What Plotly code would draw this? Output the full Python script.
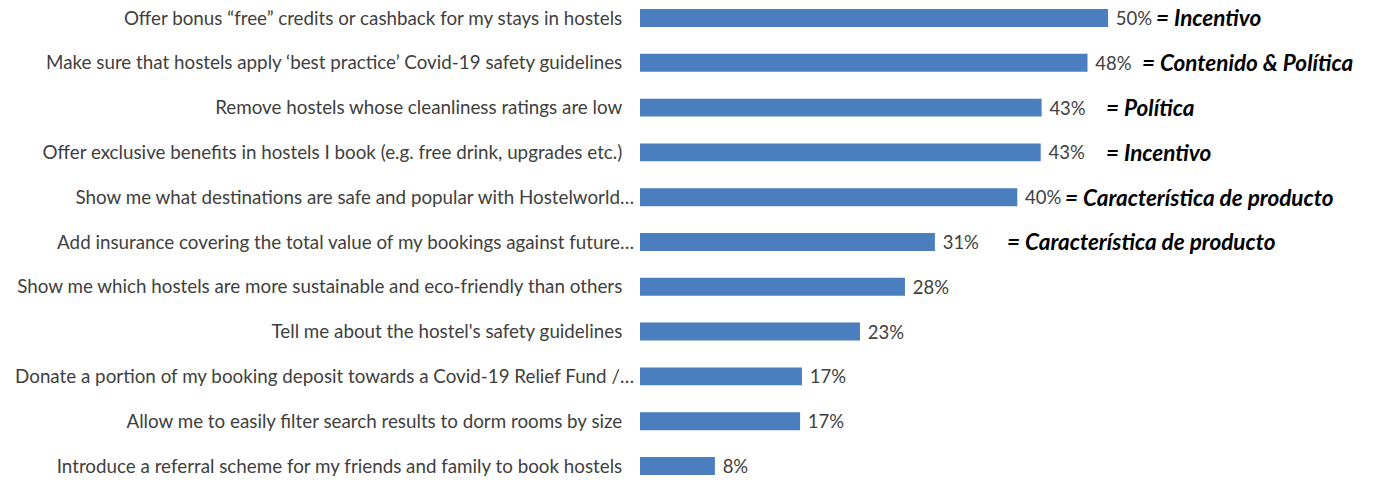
import plotly.graph_objects as go

categories = [
    "Offer bonus “free” credits or cashback for my stays in hostels",
    "Make sure that hostels apply ‘best practice’ Covid-19 safety guidelines",
    "Remove hostels whose cleanliness ratings are low",
    "Offer exclusive benefits in hostels I book (e.g. free drink, upgrades etc.)",
    "Show me what destinations are safe and popular with Hostelworld…",
    "Add insurance covering the total value of my bookings against future…",
    "Show me which hostels are more sustainable and eco-friendly than others",
    "Tell me about the hostel's safety guidelines",
    "Donate a portion of my booking deposit towards a Covid-19 Relief Fund /…",
    "Allow me to easily filter search results to dorm rooms by size",
    "Introduce a referral scheme for my friends and family to book hostels",
]
values = [50.0, 47.8, 42.9, 42.8, 40.3, 31.5, 28.3, 23.5, 17.3, 17.1, 8.0]
value_labels = ["50%", "48%", "43%", "43%", "40%", "31%", "28%", "23%", "17%", "17%", "8%"]

tags = ["= Incentivo", "= Contenido & Política", "= Política", "= Incentivo",
        "= Característica de producto", "= Característica de producto"]

BAR_COLOR = "#4A7EBF"
TEXT_COLOR = "#404040"
FONT = "Lato"

# truncated labels (ending in …) hang a little further right than the others
tick_text = [c if c.endswith("…") else c + "\u2002\u2009" for c in categories]

fig = go.Figure()

fig.add_trace(go.Bar(
    x=values,
    y=categories,
    orientation='h',
    marker=dict(color=BAR_COLOR, line=dict(width=0)),
    text=[" " + s for s in value_labels],
    textposition='outside',
    constraintext='none',
    textfont=dict(family=FONT, size=18.5, color=TEXT_COLOR),
    cliponaxis=False,
    hoverinfo='skip',
))

# where the tag text starts, in axis units
tag_x = [54.9, 53.4, 49.6, 49.6, 45.2, 39.0]
for i, t in enumerate(tags):
    fig.add_annotation(
        x=tag_x[i], y=categories[i], xref='x', yref='y',
        text="<b><i>" + t + "</i></b>",
        showarrow=False, xanchor='left', yanchor='middle',
        font=dict(family=FONT, size=22.5, color='black'),
    )

# page body has an 8px margin, so the figure is a bit smaller than the window
fig.update_layout(
    width=1366, height=472,
    margin=dict(l=632, r=0, t=0, b=0, autoexpand=False),
    plot_bgcolor='white', paper_bgcolor='white',
    bargap=0.6,
    showlegend=False,
    xaxis=dict(range=[0, 78.4], visible=False, fixedrange=True),
    yaxis=dict(
        type='category',
        range=[10.313, -0.223],
        automargin=False,
        tickmode='array', tickvals=categories, ticktext=tick_text,
        showgrid=False, zeroline=False, showline=False,
        ticks='', ticklabelstandoff=5,
        tickfont=dict(family=FONT, size=18.8, color=TEXT_COLOR),
    ),
)

fig.write_html("out.html")
